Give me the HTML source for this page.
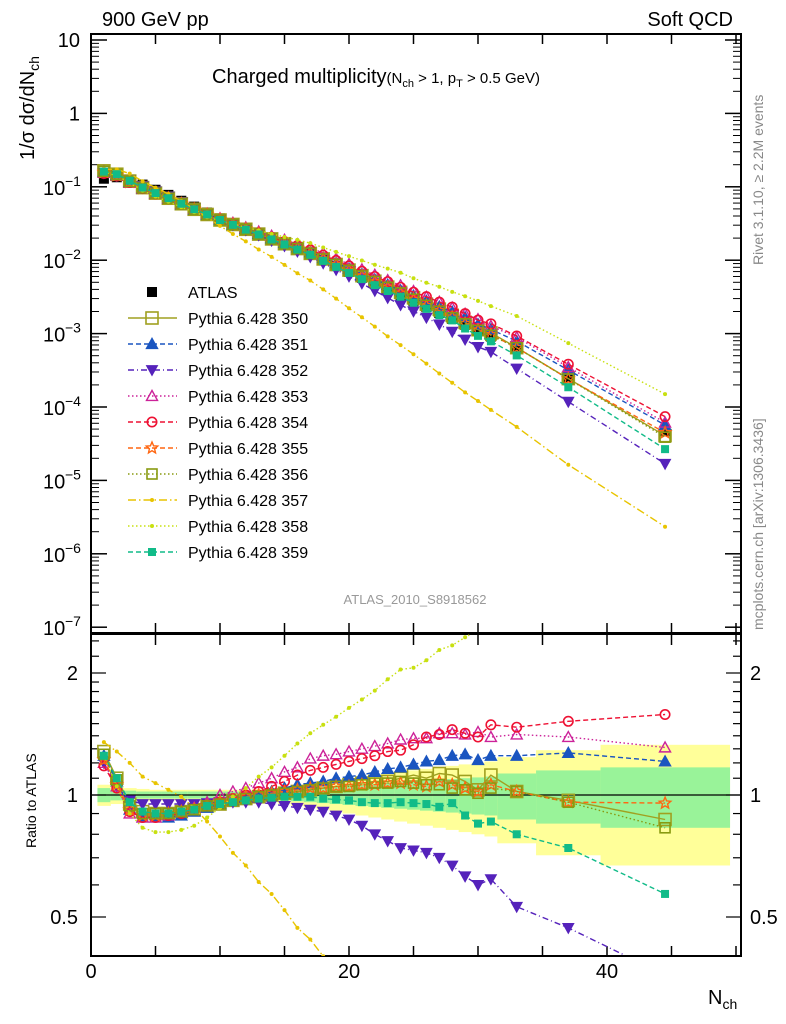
<!DOCTYPE html>
<html><head><meta charset="utf-8"><style>
html,body{margin:0;padding:0;background:#fff;width:786px;height:1024px;overflow:hidden;}
svg{display:block;font-family:"Liberation Sans",sans-serif;overflow:hidden;}
</style></head><body>
<svg id="chart" width="786" height="1024" viewBox="0 0 786 1024" xmlns="http://www.w3.org/2000/svg">
<defs>
<clipPath id="clipTop"><rect x="91" y="34" width="650" height="599"/></clipPath>
<clipPath id="clipRat"><rect x="91" y="634" width="650" height="322"/></clipPath>
</defs>
<g id="bands" clip-path="url(#clipRat)"></g>
<g id="axes"></g>
<g id="series-top" clip-path="url(#clipTop)"></g>
<g id="series-rat" clip-path="url(#clipRat)"></g>
<g id="legend"></g>
<text x="102" y="26" font-size="20">900 GeV pp</text>
<text x="733" y="26" font-size="20" text-anchor="end">Soft QCD</text>
<text x="212" y="83" font-size="20">Charged multiplicity<tspan font-size="15">(N</tspan><tspan font-size="11" dy="4">ch</tspan><tspan font-size="15" dy="-4"> &gt; 1, p</tspan><tspan font-size="11" dy="4">T</tspan><tspan font-size="15" dy="-4"> &gt; 0.5 GeV)</tspan></text>
<text transform="translate(34,160) rotate(-90)" font-size="20">1/σ dσ/dN<tspan font-size="14" dy="5">ch</tspan></text>
<text transform="translate(36,848) rotate(-90)" font-size="14">Ratio to ATLAS</text>
<text x="708" y="1004" font-size="20">N<tspan font-size="14" dy="5">ch</tspan></text>
<text x="415" y="604" font-size="13" fill="#999" text-anchor="middle">ATLAS_2010_S8918562</text>
<text transform="translate(763,265) rotate(-90)" font-size="14" fill="#888">Rivet 3.1.10, ≥ 2.2M events</text>
<text transform="translate(763,630) rotate(-90)" font-size="14" fill="#888">mcplots.cern.ch [arXiv:1306.3436]</text>
</svg>
<script>
const xs = [1,2,3,4,5,6,7,8,9,10,11,12,13,14,15,16,17,18,19,20,21,22,23,24,25,26,27,28,29,30,31,33,37,44.5];
const binLo = [0.5,1.5,2.5,3.5,4.5,5.5,6.5,7.5,8.5,9.5,10.5,11.5,12.5,13.5,14.5,15.5,16.5,17.5,18.5,19.5,20.5,21.5,22.5,23.5,24.5,25.5,26.5,27.5,28.5,29.5,30.5,31.5,34.5,39.5];
const binHi = [1.5,2.5,3.5,4.5,5.5,6.5,7.5,8.5,9.5,10.5,11.5,12.5,13.5,14.5,15.5,16.5,17.5,18.5,19.5,20.5,21.5,22.5,23.5,24.5,25.5,26.5,27.5,28.5,29.5,30.5,31.5,34.5,39.5,49.5];
const atlasLog = [-0.89,-0.87,-0.90,-0.97,-1.04,-1.11,-1.19,-1.27,-1.35,-1.43,-1.50,-1.57,-1.64,-1.71,-1.78,-1.85,-1.92,-2.00,-2.08,-2.16,-2.24,-2.32,-2.40,-2.48,-2.56,-2.64,-2.72,-2.80,-2.88,-2.96,-3.04,-3.20,-3.60,-4.33];
const bandOuter = [0.06,0.05,0.04,0.035,0.03,0.03,0.03,0.03,0.03,0.03,0.03,0.03,0.035,0.04,0.05,0.06,0.07,0.08,0.09,0.10,0.11,0.12,0.13,0.14,0.15,0.16,0.17,0.18,0.19,0.20,0.21,0.24,0.29,0.33];
const bandInner = [0.04,0.03,0.025,0.02,0.02,0.02,0.02,0.02,0.02,0.02,0.02,0.02,0.02,0.025,0.03,0.035,0.04,0.045,0.05,0.055,0.06,0.065,0.07,0.075,0.08,0.085,0.09,0.095,0.10,0.105,0.11,0.13,0.15,0.17];
const r350 = [1.28,1.10,0.95,0.91,0.90,0.90,0.91,0.92,0.94,0.95,0.97,0.98,0.99,1.00,1.01,1.02,1.03,1.04,1.05,1.06,1.07,1.08,1.08,1.10,1.12,1.10,1.13,1.12,1.08,1.03,1.12,1.02,0.97,0.87];
const r351 = [1.25,1.08,0.92,0.88,0.88,0.88,0.89,0.91,0.93,0.95,0.97,0.99,1.00,1.02,1.04,1.06,1.07,1.08,1.10,1.11,1.12,1.14,1.16,1.17,1.19,1.21,1.22,1.25,1.26,1.22,1.25,1.25,1.27,1.21];
const r352 = [1.20,1.05,0.97,0.95,0.95,0.95,0.95,0.95,0.955,0.96,0.96,0.96,0.96,0.95,0.94,0.93,0.92,0.91,0.89,0.87,0.84,0.80,0.77,0.74,0.73,0.72,0.70,0.67,0.63,0.60,0.62,0.53,0.47,0.36];
const r353 = [1.20,1.05,0.90,0.88,0.88,0.89,0.91,0.93,0.96,1.00,1.02,1.04,1.07,1.10,1.14,1.17,1.23,1.25,1.26,1.28,1.30,1.32,1.34,1.37,1.38,1.38,1.42,1.42,1.41,1.43,1.39,1.41,1.39,1.31];
const r354 = [1.18,1.04,0.91,0.88,0.88,0.89,0.90,0.92,0.94,0.96,0.98,1.00,1.02,1.05,1.08,1.12,1.15,1.17,1.19,1.21,1.23,1.25,1.28,1.29,1.33,1.39,1.41,1.45,1.42,1.39,1.49,1.47,1.52,1.58];
const r355 = [1.22,1.06,0.92,0.89,0.89,0.90,0.91,0.92,0.94,0.96,0.97,0.99,1.00,1.01,1.02,1.03,1.04,1.04,1.05,1.05,1.06,1.06,1.07,1.07,1.06,1.05,1.08,1.06,1.04,1.02,1.06,1.02,0.96,0.955];
const r356 = [1.26,1.09,0.94,0.90,0.90,0.90,0.91,0.92,0.94,0.95,0.97,0.98,0.99,1.00,1.01,1.02,1.03,1.04,1.05,1.05,1.06,1.07,1.07,1.08,1.07,1.06,1.06,1.04,1.03,1.01,1.04,1.02,0.96,0.83];
const r357 = [1.35,1.28,1.20,1.11,1.07,1.03,0.99,0.93,0.86,0.79,0.72,0.67,0.61,0.57,0.52,0.47,0.44,0.40,0.36,0.32,0.29,0.26,0.23,0.21,0.19,0.17,0.15,0.135,0.12,0.11,0.10,0.085,0.065,0.05];
const r358 = [1.25,1.05,0.90,0.83,0.81,0.81,0.82,0.84,0.88,0.93,0.99,1.04,1.11,1.17,1.25,1.34,1.42,1.49,1.56,1.64,1.72,1.81,1.93,2.04,2.06,2.15,2.28,2.34,2.45,2.55,2.60,2.75,2.95,3.20];
const r359 = [1.25,1.10,0.96,0.91,0.90,0.90,0.91,0.92,0.94,0.95,0.96,0.97,0.98,0.985,0.99,0.99,0.99,0.98,0.975,0.97,0.96,0.955,0.955,0.96,0.955,0.95,0.935,0.955,0.89,0.85,0.86,0.80,0.74,0.57];
const seriesNames = ["Pythia 6.428 350","Pythia 6.428 351","Pythia 6.428 352","Pythia 6.428 353","Pythia 6.428 354","Pythia 6.428 355","Pythia 6.428 356","Pythia 6.428 357","Pythia 6.428 358","Pythia 6.428 359"];
const xTicks = [0,20,40];

const NS="http://www.w3.org/2000/svg";
const X0=91, XS=12.9;
const RTOP=635, RBOT=955;
function X(x){return X0+x*XS;}
function YT(v){return 40+(1-Math.log10(v))*73.4;}
function YR(r){return 795-Math.log2(r)*122;}
function el(tag,attrs,parent,text){const e=document.createElementNS(NS,tag);for(const k in attrs)e.setAttribute(k,attrs[k]);if(text!==undefined)e.textContent=text;parent.appendChild(e);return e;}

// clip a polyline to vertical range [y0,y1]; returns list of segments (arrays of [x,y])
function clipPoly(pts,y0,y1){
 const segs=[];let cur=[];
 const inside=p=>p[1]>=y0&&p[1]<=y1;
 for(let i=0;i<pts.length;i++){
  const p=pts[i];
  if(i>0){
   const q=pts[i-1];
   if(inside(q)!==inside(p)||(!inside(q)&&!inside(p)&&((q[1]<y0&&p[1]>y1)||(q[1]>y1&&p[1]<y0)))){
    const cross=[];
    [y0,y1].forEach(b=>{if((q[1]-b)*(p[1]-b)<0){const t=(b-q[1])/(p[1]-q[1]);cross.push([q[0]+t*(p[0]-q[0]),b,t]);}});
    cross.sort((a,b)=>a[2]-b[2]);
    cross.forEach(c=>{
     if(cur.length){cur.push([c[0],c[1]]);segs.push(cur);cur=[];}
     else cur=[[c[0],c[1]]];
    });
   }
  }
  if(inside(p))cur.push(p);
 }
 if(cur.length>1)segs.push(cur);
 return segs;
}

const styles=[
 {r:r350,c:"#a0a020",dash:"",m:"osq",s:12},
 {r:r351,c:"#1a55c0",dash:"5,3",m:"tri",s:11},
 {r:r352,c:"#5522bb",dash:"6,3,1,3",m:"dtri",s:11},
 {r:r353,c:"#cc2299",dash:"1.5,2.5",m:"otri",s:11},
 {r:r354,c:"#ee1133",dash:"5,3",m:"ocirc",s:11},
 {r:r355,c:"#ff6611",dash:"5,3",m:"ostar",s:12},
 {r:r356,c:"#889a10",dash:"1.5,2.5",m:"osq",s:10},
 {r:r357,c:"#e8c400",dash:"8,3,1.5,3",m:"dot",s:4},
 {r:r358,c:"#c8e010",dash:"1.5,2.5",m:"dot",s:4},
 {r:r359,c:"#11bb88",dash:"5,3",m:"sq",s:8}
];

function marker(g,kind,x,y,s,c){
 const h=s/2;let e;
 if(kind==="osq"||kind==="sq"){e=el("rect",{x:x-h,y:y-h,width:s,height:s,fill:kind==="sq"?c:"none",stroke:c,"stroke-width":kind==="sq"?0:1.6},g);}
 else if(kind==="tri"||kind==="otri"){e=el("polygon",{points:`${x},${y-h} ${x-h},${y+h*0.8} ${x+h},${y+h*0.8}`,fill:kind==="tri"?c:"none",stroke:c,"stroke-width":1.4},g);}
 else if(kind==="dtri"){e=el("polygon",{points:`${x},${y+h} ${x-h},${y-h*0.8} ${x+h},${y-h*0.8}`,fill:c,stroke:c},g);}
 else if(kind==="ocirc"){e=el("circle",{cx:x,cy:y,r:h-0.8,fill:"none",stroke:c,"stroke-width":1.6},g);}
 else if(kind==="ostar"){let p=[];for(let i=0;i<10;i++){const a=-Math.PI/2+i*Math.PI/5,rr=i%2?h*0.45:h;p.push((x+rr*Math.cos(a)).toFixed(1)+","+(y+rr*Math.sin(a)).toFixed(1));}e=el("polygon",{points:p.join(" "),fill:"none",stroke:c,"stroke-width":1.4},g);}
 else {e=el("circle",{cx:x,cy:y,r:s/2,fill:c},g);}
 return e;
}

const bands=document.getElementById("bands");
xs.forEach((x,i)=>{
 const o=el("rect",{x:X(binLo[i]),y:YR(1+bandOuter[i]),width:X(binHi[i])-X(binLo[i])+0.5,height:YR(1-bandOuter[i])-YR(1+bandOuter[i]),fill:"#ffff99"},bands);
 
 
 const n=el("rect",{x:X(binLo[i]),y:YR(1+bandInner[i]),width:X(binHi[i])-X(binLo[i])+0.5,height:YR(1-bandInner[i])-YR(1+bandInner[i]),fill:"#99f399"},bands);
 
 
});

const ax=document.getElementById("axes");
el("rect",{x:91,y:34,width:650,height:599,fill:"none",stroke:"#000","stroke-width":2},ax);
el("rect",{x:91,y:634,width:650,height:322,fill:"none",stroke:"#000","stroke-width":2},ax);
el("line",{x1:91,x2:741,y1:YR(1),y2:YR(1),stroke:"#000","stroke-width":1.3},ax);
for(let x=0;x<=50;x+=5){
 el("line",{x1:X(x),x2:X(x),y1:34,y2:44},ax);el("line",{x1:X(x),x2:X(x),y1:623,y2:633},ax);
 el("line",{x1:X(x),x2:X(x),y1:635,y2:645},ax);el("line",{x1:X(x),x2:X(x),y1:946,y2:956},ax);
}
ax.querySelectorAll("line").forEach(l=>{if(!l.getAttribute("stroke")){l.setAttribute("stroke","#000");l.setAttribute("stroke-width","1.5");}});
xTicks.forEach(t=>{const tl=el("text",{x:X(t),y:978,"font-size":20,"text-anchor":"middle"},ax,String(t));
 
 });
for(let d=-7;d<=1;d++){
 const y=YT(Math.pow(10,d));
 el("line",{x1:91,x2:107,y1:y,y2:y,stroke:"#000","stroke-width":1.5},ax);
 el("line",{x1:725,x2:741,y1:y,y2:y,stroke:"#000","stroke-width":1.5},ax);
 if(d<1)for(let k=2;k<=9;k++){const yy=YT(k*Math.pow(10,d));if(yy<34)continue;
  el("line",{x1:91,x2:99,y1:yy,y2:yy,stroke:"#000","stroke-width":1},ax);
  el("line",{x1:733,x2:741,y1:yy,y2:yy,stroke:"#000","stroke-width":1},ax);}
 let lab;
 if(d===1)lab=el("text",{x:80,y:y+7,"font-size":20,"text-anchor":"end"},ax,"10");
 else if(d===0)lab=el("text",{x:80,y:y+7,"font-size":20,"text-anchor":"end"},ax,"1");
 else{lab=el("text",{x:64,y:y+8,"font-size":20,"text-anchor":"end"},ax,"10");
  el("tspan",{dy:-9,"font-size":14,x:65},lab,"−"+(-d));lab.setAttribute("text-anchor","start");lab.setAttribute("x","43");}
 
 
}
const rt=[0.4,0.5,0.6,0.7,0.8,0.9,1,1.1,1.2,1.3,1.4,1.5,1.6,1.7,1.8,1.9,2,2.2,2.4];
rt.forEach(r=>{const y=YR(r);if(y<635||y>955)return;const maj=(r===0.5||r===1||r===2);
 el("line",{x1:91,x2:maj?106:99,y1:y,y2:y,stroke:"#000","stroke-width":1.2},ax);
 el("line",{x1:maj?726:733,x2:741,y1:y,y2:y,stroke:"#000","stroke-width":1.2},ax);
 if(maj){const a=el("text",{x:78,y:y+7,"font-size":20,"text-anchor":"end"},ax,String(r));
  
  
  const b=el("text",{x:750,y:y+7,"font-size":20},ax,String(r));
  
  }
});

const gt=document.getElementById("series-top"), gr=document.getElementById("series-rat");
xs.forEach((x,i)=>{const v=Math.pow(10,atlasLog[i]);const m=el("rect",{x:X(x)-5,y:YT(v)-5,width:10,height:10,fill:"#000"},gt);
 
 });
styles.forEach((s,k)=>{
 const tg=el("g",{},gt); 
 
 const rg=el("g",{},gr); 
 
 const ptsT=xs.map((x,i)=>X(x).toFixed(1)+","+YT(Math.pow(10,atlasLog[i])*s.r[i]).toFixed(1)).join(" ");
 el("polyline",{points:ptsT,fill:"none",stroke:s.c,"stroke-width":1.4,"stroke-dasharray":s.dash},tg);
 const rawR=xs.map((x,i)=>[X(x),YR(s.r[i])]);
 clipPoly(rawR,RTOP,RBOT).forEach(seg=>{
  el("polyline",{points:seg.map(p=>p[0].toFixed(1)+","+p[1].toFixed(1)).join(" "),fill:"none",stroke:s.c,"stroke-width":1.4,"stroke-dasharray":s.dash},rg);
 });
 xs.forEach((x,i)=>{
  const mt=marker(tg,s.m,X(x),YT(Math.pow(10,atlasLog[i])*s.r[i]),s.s,s.c);
  
  const yr=YR(s.r[i]);
  if(yr>=RTOP-4&&yr<=RBOT+4){
   const mr=marker(rg,s.m,X(x),yr,s.s,s.c);
   
  }
 });
});

const lg=document.getElementById("legend");
const ly0=292, ldy=26;
const a=el("rect",{x:147,y:ly0-5,width:10,height:10,fill:"#000"},lg);

el("text",{x:188,y:ly0+6,"font-size":16},lg,"ATLAS");
styles.forEach((s,k)=>{
 const y=ly0+ldy*(k+1);
 const g=el("g",{},lg);
 
 
 el("line",{x1:128,x2:177,y1:y,y2:y,stroke:s.c,"stroke-width":1.4,"stroke-dasharray":s.dash},g);
 marker(g,s.m,152,y,s.s,s.c);
 el("text",{x:188,y:y+6,"font-size":16},g,seriesNames[k]);
});
</script>
</body></html>
